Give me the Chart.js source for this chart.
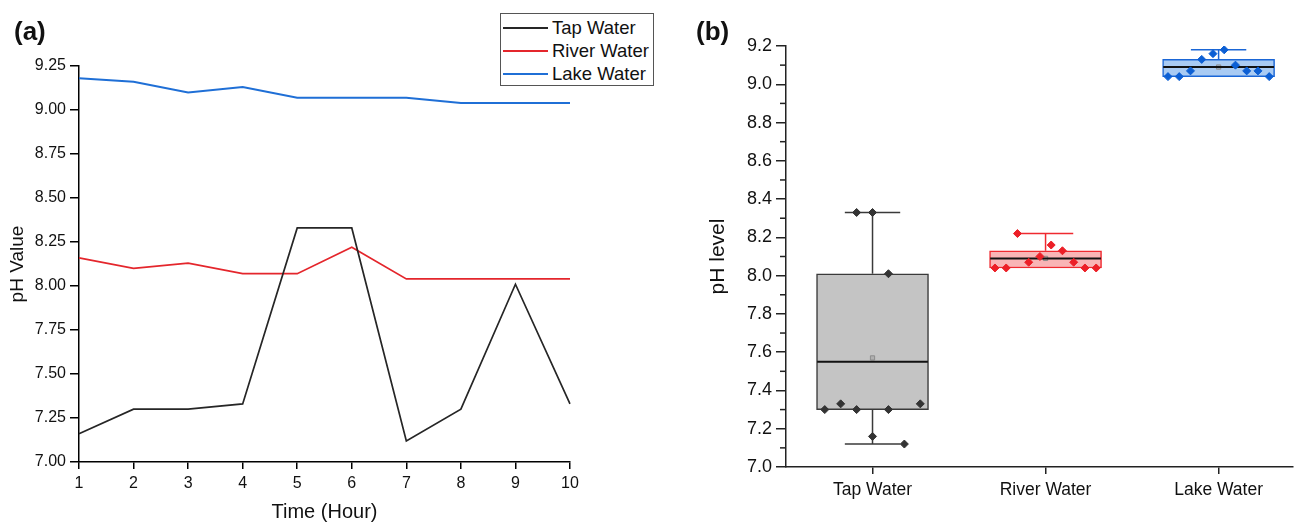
<!DOCTYPE html>
<html>
<head>
<meta charset="utf-8">
<title>pH of water samples</title>
<script src="https://cdn.jsdelivr.net/npm/chart.js@4.4.1/dist/chart.umd.min.js"></script>
<style>
  html, body { margin: 0; padding: 0; background: #fff; }
  body { width: 1298px; height: 522px; position: relative; overflow: hidden; font-family: "Liberation Sans", Arial, sans-serif; }
  .panel { position: absolute; top: 0; height: 522px; }
  #panel-a { left: 0; width: 660px; }
  #panel-b { left: 690px; width: 608px; }
  .tag { position: absolute; font-weight: bold; font-size: 26px; line-height: 1; color: #111; }
  #legend { position: absolute; left: 500px; top: 13px; width: 154px; height: 73px; box-sizing: border-box;
            border: 1px solid #555; background: #fff; padding-top: 2px; }
  .lg-row { height: 23px; display: flex; align-items: center; font-size: 18.5px; color: #111; }
  .lg-line { width: 45px; height: 0; border-top: 2px solid; margin: 0 4px 0 2px; }
</style>
</head>
<body>
  <div class="panel" id="panel-a"><canvas id="chart-a" width="660" height="522"></canvas></div>
  <div class="panel" id="panel-b"><canvas id="chart-b" width="608" height="522"></canvas></div>
  <div class="tag" style="left:14px;top:18px;">(a)</div>
  <div class="tag" style="left:696px;top:18px;">(b)</div>
  <div id="legend"></div>

<script>
// ============ DATA ============
const hours = ['1', '2', '3', '4', '5', '6', '7', '8', '9', '10'];
const seriesNames = ['Tap Water', 'River Water', 'Lake Water'];

const tapWater   = [7.16, 7.30, 7.30, 7.33, 8.33, 8.33, 7.12, 7.30, 8.01, 7.33];
const riverWater = [8.16, 8.10, 8.13, 8.07, 8.07, 8.22, 8.04, 8.04, 8.04, 8.04];
const lakeWater  = [9.18, 9.16, 9.10, 9.13, 9.07, 9.07, 9.07, 9.04, 9.04, 9.04];

// box plot stats as drawn in panel (b)
const boxLow      = [7.30, 8.04, 9.04];
const boxHigh     = [8.01, 8.13, 9.13];
const boxLine     = [7.55, 8.09, 9.09];
const whiskerLow  = [7.12, 8.04, 9.04];
const whiskerHigh = [8.33, 8.22, 9.18];
const meanValue   = [7.57, 8.09, 9.09];

// ============ STYLE ============
const FONT = '"Liberation Sans", Arial, sans-serif';
const lineColors  = ['#262626', '#e4262c', '#1f6fd6'];
const boxFill     = ['#c4c4c4', '#f9b5b6', '#a9cbf3'];
const boxEdge     = ['#3a3a3a', '#ef2a30', '#1a66d6'];
const dotColors   = ['#333333', '#ec1f27', '#0c5fd4'];

// jitter of the dots in panel (b): slot per hour and slot width (x units)
const JITTER = [
  { step: 0.092, slots: [0, -3, -1, -2, -1, 0, 2, 1, 1, 3] },
  { step: 0.065, slots: [0.5, -0.5, 1.5, -1.5, 2.5, -2.5, -4.5, -3.5, 3.5, 4.5] },
  { step: 0.065, slots: [0.5, -0.5, 1.5, -1.5, -2.5, 2.5, 3.5, -4.5, -3.5, 4.5] },
];
const BOX_HALF = 0.32;
const CAP_HALF = 0.16;

const $ = (id) => document.getElementById(id);

// ============ LEGEND (a) ============
$('legend').innerHTML = seriesNames.map((n, i) => `
  <div class="lg-row"><span class="lg-line" style="border-color:${lineColors[i]}"></span>${n}</div>
`).join('');

// ============ PANEL (a) ============
const axisA = (extra) => Object.assign({
  border: { display: true, color: '#000', width: 1.5 },
  grid: { drawOnChartArea: false, drawTicks: true, color: '#000', lineWidth: 1.5 },
}, extra);

new Chart($('chart-a').getContext('2d'), {
  type: 'line',
  data: {
    labels: hours,
    datasets: [tapWater, riverWater, lakeWater].map((d, i) => ({
      label: seriesNames[i],
      data: d,
      borderColor: lineColors[i],
      borderWidth: i === 2 ? 2 : 1.7,
      pointRadius: 0,
      tension: 0,
      fill: false,
    })),
  },
  options: {
    responsive: false,
    animation: false,
    layout: { padding: { top: 66, right: 90, bottom: 0, left: 0 } },
    plugins: { legend: { display: false }, tooltip: { enabled: false } },
    scales: {
      x: axisA({
        offset: false,
        grid: { drawOnChartArea: false, offset: false, color: '#000', lineWidth: 1.5, tickLength: 7 },
        ticks: { color: '#111', font: { family: FONT, size: 16 }, padding: 5, maxRotation: 0 },
        title: { display: true, text: 'Time (Hour)', color: '#111',
                 font: { family: FONT, size: 20, lineHeight: 1 }, padding: { top: 0, bottom: 0 } },
        afterFit: (s) => { s.height = 60; },
      }),
      y: axisA({
        min: 7, max: 9.25,
        grid: { drawOnChartArea: false, color: '#000', lineWidth: 1.5, tickLength: 9 },
        ticks: { stepSize: 0.25, color: '#111', font: { family: FONT, size: 16 }, padding: 4,
                 callback: (v) => Number(v).toFixed(2) },
        title: { display: true, text: 'pH Value', color: '#111',
                 font: { family: FONT, size: 19, lineHeight: 1 }, padding: { top: 8, bottom: 0 } },
        afterFit: (s) => { s.width = 79; },
      }),
    },
  },
});

// ============ PANEL (b) ============
function seg(x1, y1, x2, y2, color, width) {
  return {
    type: 'line',
    data: [{ x: x1, y: y1 }, { x: x2, y: y2 }],
    borderColor: color,
    borderWidth: width,
    pointRadius: 0,
    fill: false,
    order: 1,
  };
}

const boxDatasets = [];

// boxes
boxDatasets.push({
  type: 'bar',
  data: seriesNames.map((n, i) => ({ x: i + 1, y: [boxLow[i], boxHigh[i]] })),
  backgroundColor: boxFill,
  borderColor: boxEdge,
  borderWidth: 1.5,
  borderSkipped: false,
  barThickness: 112,
  order: 3,
});

// whiskers, caps, centre lines
seriesNames.forEach((n, i) => {
  const c = i + 1;
  if (whiskerHigh[i] > boxHigh[i]) {
    boxDatasets.push(seg(c, boxHigh[i], c, whiskerHigh[i], boxEdge[i], 1.5));
    boxDatasets.push(seg(c - CAP_HALF, whiskerHigh[i], c + CAP_HALF, whiskerHigh[i], boxEdge[i], 1.5));
  }
  if (whiskerLow[i] < boxLow[i]) {
    boxDatasets.push(seg(c, boxLow[i], c, whiskerLow[i], boxEdge[i], 1.5));
    boxDatasets.push(seg(c - CAP_HALF, whiskerLow[i], c + CAP_HALF, whiskerLow[i], boxEdge[i], 1.5));
  }
  boxDatasets.push(seg(c - BOX_HALF, boxLine[i], c + BOX_HALF, boxLine[i], '#111', 2));
});

// mean markers
boxDatasets.push({
  type: 'scatter',
  data: meanValue.map((m, i) => ({ x: i + 1, y: m })),
  pointStyle: 'rect',
  pointRadius: 3,
  backgroundColor: 'rgba(140,140,140,0.35)',
  borderColor: '#8c8c8c',
  borderWidth: 1,
  order: 2,
});

// raw points
[tapWater, riverWater, lakeWater].forEach((vals, i) => {
  boxDatasets.push({
    type: 'scatter',
    data: vals.map((v, k) => ({ x: i + 1 + JITTER[i].slots[k] * JITTER[i].step, y: v })),
    pointStyle: 'rectRot',
    pointRadius: 4,
    backgroundColor: dotColors[i],
    borderColor: dotColors[i],
    borderWidth: 1,
    order: 0,
  });
});

const minorTicks = {
  id: 'minorTicks',
  afterDraw(chart) {
    const y = chart.scales.y;
    const ctx = chart.ctx;
    const t = y.ticks;
    ctx.save();
    ctx.strokeStyle = '#222';
    ctx.lineWidth = 1.5;
    for (let k = 0; k < t.length - 1; k++) {
      const py = y.getPixelForValue((t[k].value + t[k + 1].value) / 2);
      ctx.beginPath();
      ctx.moveTo(y.right, py);
      ctx.lineTo(y.right - 6, py);
      ctx.stroke();
    }
    ctx.restore();
  },
};

new Chart($('chart-b').getContext('2d'), {
  type: 'bar',
  data: { datasets: boxDatasets },
  plugins: [minorTicks],
  options: {
    responsive: false,
    animation: false,
    layout: { padding: { top: 46, right: 0, bottom: 0, left: 0 } },
    plugins: { legend: { display: false }, tooltip: { enabled: false } },
    scales: {
      x: {
        type: 'linear',
        min: 0.5, max: 3.43,
        offset: false,
        border: { display: true, color: '#222', width: 1.5 },
        grid: { drawOnChartArea: false, offset: false, color: '#222', lineWidth: 1.5, tickLength: 7 },
        afterBuildTicks: (s) => { s.ticks = [1, 2, 3].map(v => ({ value: v })); },
        ticks: { color: '#111', font: { family: FONT, size: 17.5 }, padding: 6, maxRotation: 0,
                 callback: (v) => seriesNames[v - 1] },
        afterFit: (s) => { s.height = 55; },
      },
      y: {
        min: 7, max: 9.2,
        border: { display: true, color: '#222', width: 1.5 },
        grid: { drawOnChartArea: false, color: '#222', lineWidth: 1.5, tickLength: 10 },
        ticks: { stepSize: 0.2, color: '#111', font: { family: FONT, size: 18 }, padding: 4,
                 callback: (v) => Number(v).toFixed(1) },
        title: { display: true, text: 'pH level', color: '#111',
                 font: { family: FONT, size: 21, lineHeight: 1 }, padding: { top: 18, bottom: 0 } },
        afterFit: (s) => { s.width = 96; },
      },
    },
  },
});
</script>
</body>
</html>
